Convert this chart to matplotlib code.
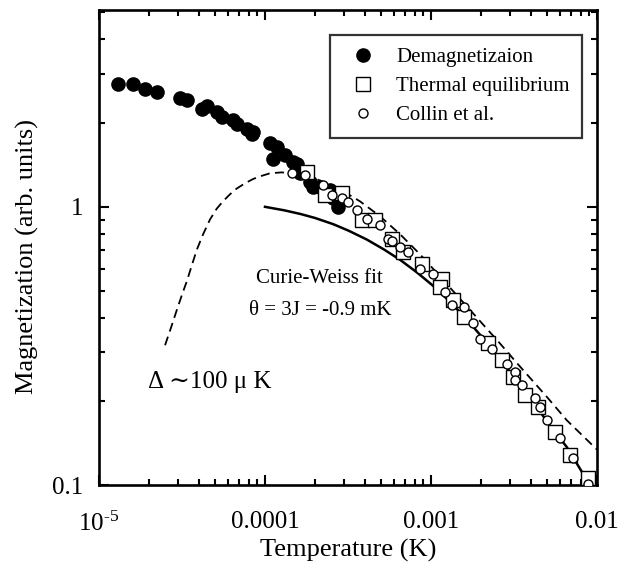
"""
Magnetization vs temperature, log-log, three data sets plus two model curves.
"""
import numpy as np
import matplotlib
matplotlib.use('Agg')
import matplotlib.pyplot as plt
from matplotlib.ticker import FixedLocator, FixedFormatter, LogLocator, NullFormatter

plt.rcParams['font.family'] = ['Liberation Serif', 'DejaVu Serif']
plt.rcParams['mathtext.fontset'] = 'custom'
plt.rcParams['mathtext.rm'] = 'Liberation Serif'
plt.rcParams['mathtext.it'] = 'Liberation Serif:italic'

# demagnetization (filled circles)
demag_T = [1.31e-5, 1.61e-5, 1.89e-5, 2.23e-5, 3.07e-5, 3.38e-5, 4.16e-5, 4.45e-5,
           5.12e-5, 5.49e-5, 6.44e-5, 6.76e-5, 7.76e-5, 8.32e-5, 8.51e-5, 1.07e-4,
           1.18e-4, 1.12e-4, 1.32e-4, 1.48e-4, 1.55e-4, 1.62e-4, 1.87e-4, 1.95e-4,
           2.14e-4, 2.46e-4, 2.58e-4, 2.77e-4]
demag_M = [2.77, 2.77, 2.66, 2.58, 2.47, 2.43, 2.25, 2.30,
           2.19, 2.10, 2.05, 1.99, 1.91, 1.83, 1.86, 1.69,
           1.64, 1.48, 1.53, 1.45, 1.43, 1.32, 1.23, 1.18,
           1.18, 1.15, 1.08, 1.00]

# thermal equilibrium (open squares)
therm_T = [1.80e-4, 2.30e-4, 2.90e-4, 3.82e-4, 4.60e-4, 5.80e-4, 6.81e-4, 8.79e-4,
           1.16e-3, 1.13e-3, 1.36e-3, 1.57e-3, 2.21e-3, 2.67e-3, 3.13e-3, 3.68e-3,
           4.43e-3, 5.58e-3, 6.88e-3, 8.86e-3]
therm_M = [1.33, 1.10, 1.12, 0.894, 0.894, 0.769, 0.688, 0.625,
           0.552, 0.515, 0.462, 0.402, 0.323, 0.281, 0.245, 0.210,
           0.191, 0.155, 0.128, 0.106]

# Collin et al. (small open circles)
collin_T = [1.45e-4, 1.74e-4, 2.25e-4, 2.52e-4, 2.90e-4, 3.18e-4, 3.57e-4, 4.10e-4,
            4.93e-4, 5.53e-4, 5.80e-4, 6.51e-4, 7.30e-4, 8.59e-4, 1.03e-3, 1.21e-3,
            1.33e-3, 1.57e-3, 1.80e-3, 1.97e-3, 2.32e-3, 2.86e-3, 3.21e-3, 3.21e-3,
            3.52e-3, 4.23e-3, 4.54e-3, 4.98e-3, 5.98e-3, 7.20e-3, 8.86e-3]
collin_M = [1.32, 1.30, 1.20, 1.10, 1.08, 1.04, 0.971, 0.907,
            0.858, 0.769, 0.754, 0.717, 0.688, 0.600, 0.572, 0.494,
            0.443, 0.437, 0.381, 0.334, 0.307, 0.272, 0.255, 0.238,
            0.229, 0.205, 0.190, 0.171, 0.148, 0.125, 0.101]

# Curie-Weiss fit (solid)
cw_T = [1.0e-4, 1.3e-4, 1.63e-4, 2.0e-4, 2.58e-4, 3.2e-4, 4.1e-4, 5.2e-4, 6.51e-4,
        8.2e-4, 1.03e-3, 1.3e-3, 1.64e-3, 2.05e-3, 2.6e-3, 3.3e-3, 4.13e-3,
        5.2e-3, 6.57e-3, 8.0e-3, 9.0e-3]
cw_M = [1.0, 0.972, 0.943, 0.912, 0.866, 0.82, 0.763, 0.703, 0.645,
        0.582, 0.52, 0.456, 0.394, 0.338, 0.284, 0.237, 0.198,
        0.164, 0.137, 0.113, 0.1]

# gap model, Delta ~ 100 uK (dashed)
gap_T = [2.50e-5, 2.72e-5, 2.94e-5, 3.15e-5, 3.38e-5, 3.62e-5, 3.88e-5, 4.23e-5,
         4.66e-5, 5.12e-5, 5.61e-5, 6.15e-5, 6.75e-5, 7.58e-5, 8.50e-5, 9.55e-5,
         1.07e-4, 1.26e-4, 1.63e-4, 2.14e-4, 2.83e-4, 3.74e-4, 4.93e-4, 6.51e-4,
         8.59e-4, 1.13e-3, 1.50e-3, 1.80e-3, 2.60e-3, 3.30e-3, 5.0e-3, 6.57e-3, 1.0e-2]
gap_M = [0.318, 0.369, 0.425, 0.480, 0.540, 0.615, 0.700, 0.795,
         0.900, 0.985, 1.050, 1.109, 1.163, 1.215, 1.26, 1.292,
         1.32, 1.33, 1.309, 1.245, 1.156, 1.046, 0.925, 0.797,
         0.675, 0.563, 0.466, 0.413, 0.323, 0.274, 0.207, 0.171, 0.134]

xticks = [1e-5, 1e-4, 1e-3, 1e-2]
xtick_labels = ['$10^{\u20105}$', '0.0001', '0.001', '0.01']
yticks = [0.1, 1]
ytick_labels = ['0.1', '1']

fig = plt.figure(figsize=(6.25, 5.72), dpi=100)
ax = fig.add_axes([99 / 625, 1 - 485 / 572, 498 / 625, 475 / 572])

ax.plot(gap_T, gap_M, color='k', lw=1.3, ls=(0, (5, 3)), zorder=2)
ax.plot(cw_T, cw_M, color='k', lw=1.8, zorder=2)
ax.plot(demag_T, demag_M, 'o', ms=9.5, mfc='k', mec='k', label='Demagnetizaion', zorder=3)
ax.plot(therm_T, therm_M, 's', ms=10, mfc='white', mec='k', mew=1.0,
        label='Thermal equilibrium', zorder=4)
ax.plot(collin_T, collin_M, 'o', ms=6.5, mfc='white', mec='k', mew=1.0,
        label='Collin et al.', zorder=5)

ax.set_xscale('log')
ax.set_yscale('log')
ax.set_xlim(1e-5, 1e-2)
ax.set_ylim(0.1, 5.1)

ax.xaxis.set_major_locator(FixedLocator(xticks))
ax.xaxis.set_major_formatter(FixedFormatter(xtick_labels))
ax.xaxis.set_minor_locator(LogLocator(base=10, subs=np.arange(2, 10)))
ax.xaxis.set_minor_formatter(NullFormatter())
ax.yaxis.set_major_locator(FixedLocator(yticks))
ax.yaxis.set_major_formatter(FixedFormatter(ytick_labels))
ax.yaxis.set_minor_locator(LogLocator(base=10, subs=np.arange(2, 10)))
ax.yaxis.set_minor_formatter(NullFormatter())

ax.tick_params(which='both', direction='in', top=True, right=True, width=1.5)
ax.tick_params(which='major', length=7.5, labelsize=18)
ax.tick_params(which='minor', length=4)
ax.tick_params(axis='x', which='major', pad=19)
ax.tick_params(axis='y', which='major', pad=11)
for s in ax.spines.values():
    s.set_linewidth(1.9)

ax.set_xlabel('Temperature (K)', fontsize=19, labelpad=2)
ax.set_ylabel('Magnetization (arb. units)', fontsize=19)
ax.yaxis.set_label_coords(-0.12, 0.48)

ax.text(2.14e-4, 0.554, 'Curie-Weiss fit', fontsize=15, ha='center', va='center')
ax.text(2.14e-4, 0.425, 'θ = 3J = -0.9 mK', fontsize=15, ha='center', va='center')
ax.text(1.97e-5, 0.234, 'Δ ∼100 μ K', fontsize=18, ha='left', va='center')

leg = ax.legend(loc='upper right', bbox_to_anchor=(0.970, 0.947), borderaxespad=0,
                fontsize=15, frameon=True, fancybox=False, edgecolor='k',
                handlelength=1.9, handletextpad=0.65, labelspacing=0.45,
                borderpad=0.6, numpoints=1)
leg.get_frame().set_linewidth(1.6)

fig.savefig('out.png', dpi=100)
